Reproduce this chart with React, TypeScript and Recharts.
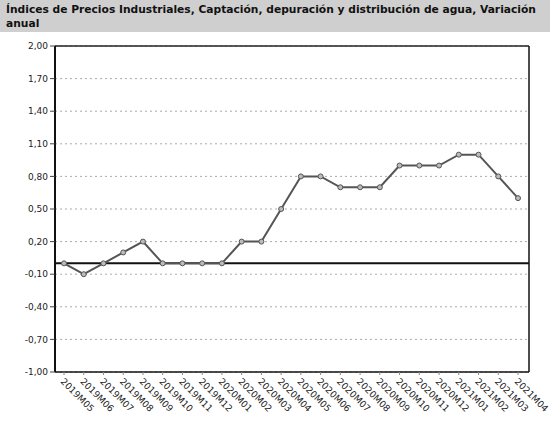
import React from 'react';
import { LineChart, Line, XAxis, YAxis, CartesianGrid, ReferenceLine } from 'recharts';

const periods = [
  '2019M05', '2019M06', '2019M07', '2019M08', '2019M09', '2019M10', '2019M11', '2019M12',
  '2020M01', '2020M02', '2020M03', '2020M04', '2020M05', '2020M06', '2020M07', '2020M08',
  '2020M09', '2020M10', '2020M11', '2020M12', '2021M01', '2021M02', '2021M03', '2021M04',
];

const variacion = [
  0.0, -0.1, 0.0, 0.1, 0.2, 0.0, 0.0, 0.0,
  0.0, 0.2, 0.2, 0.5, 0.8, 0.8, 0.7, 0.7,
  0.7, 0.9, 0.9, 0.9, 1.0, 1.0, 0.8, 0.6,
];

const yTicks = [-1, -0.7, -0.4, -0.1, 0.2, 0.5, 0.8, 1.1, 1.4, 1.7, 2];

const data = periods.map((p, i) => ({ periodo: p, valor: variacion[i] }));

const fmt = (v: number) => v.toFixed(2).replace('.', ',');

const XTick = (props: any) => {
  const { x, y, payload } = props;
  return (
    <text
      x={x - 4}
      y={y + 5}
      transform={`rotate(45, ${x - 4}, ${y + 5})`}
      textAnchor="start"
      fontSize={9.2}
      fill="#222"
      fontFamily="DejaVu Sans"
    >
      {payload.value}
    </text>
  );
};

const App: React.FC = () => {
  return (
    <div style={{ position: 'absolute', left: 0, top: 0, width: 550, height: 424, background: '#fff', overflow: 'hidden' }}>
      <div
        style={{
          position: 'absolute',
          left: 0,
          top: 0,
          width: 550,
          height: 32,
          background: '#cfcfcf',
        }}
      />
      <div
        style={{
          position: 'absolute',
          left: 6,
          top: 3,
          width: 540,
          fontFamily: 'DejaVu Sans',
          fontWeight: 'bold',
          fontSize: 10.7,
          lineHeight: '14px',
          color: '#111',
        }}
      >
        Índices de Precios Industriales, Captación, depuración y distribución de agua, Variación anual
      </div>
      <LineChart
        width={550}
        height={424}
        data={data}
        margin={{ top: 46, right: 20, bottom: 0, left: 0 }}
        style={{ position: 'absolute', left: 0, top: 0 }}
      >
        <CartesianGrid vertical={false} stroke="#aaa" strokeDasharray="2 3" />
        <XAxis
          dataKey="periodo"
          interval={0}
          height={52}
          padding={{ left: 9, right: 11 }}
          axisLine={{ stroke: '#111', strokeWidth: 1.5 }}
          tickLine={{ stroke: '#888' }}
          tickSize={3}
          tick={<XTick />}
        />
        <YAxis
          domain={[-1, 2]}
          ticks={yTicks}
          interval={0}
          width={55}
          tickFormatter={fmt}
          axisLine={{ stroke: '#111', strokeWidth: 2 }}
          tickLine={{ stroke: '#444' }}
          tickSize={5}
          tick={{ fontSize: 9, fill: '#222', fontFamily: 'DejaVu Sans' }}
        />
        <YAxis
          yAxisId="r"
          orientation="right"
          domain={[-1, 2]}
          width={1}
          tick={false}
          tickLine={false}
          axisLine={{ stroke: '#111', strokeWidth: 1.5 }}
        />
        <ReferenceLine y={2} stroke="#222" strokeWidth={1.5} />
        <ReferenceLine y={0} stroke="#111" strokeWidth={2} />
        <Line
          type="linear"
          dataKey="valor"
          stroke="#555"
          strokeWidth={2}
          dot={{ r: 2.5, stroke: '#555', strokeWidth: 1, fill: '#bbb' }}
          isAnimationActive={false}
        />
      </LineChart>
    </div>
  );
};

export default App;
